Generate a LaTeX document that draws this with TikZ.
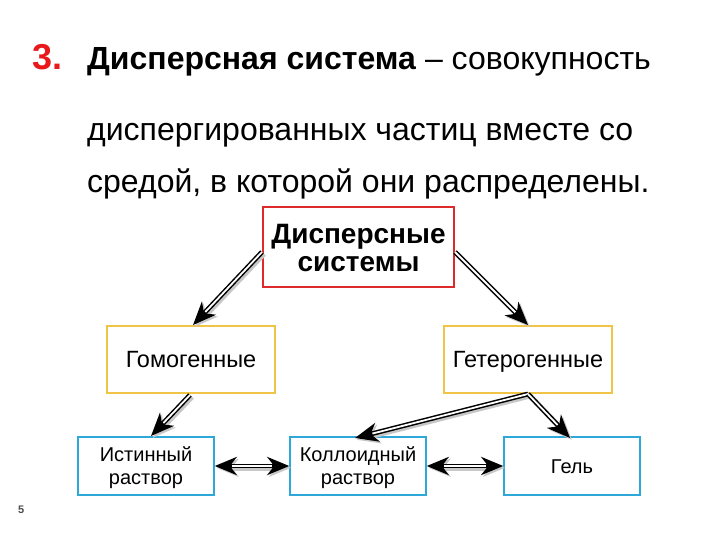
\documentclass[tikz,border=0pt]{standalone}
\usepackage{fontspec}
\setmainfont{Liberation Sans}
\usetikzlibrary{arrows.meta}
\definecolor{tred}{HTML}{E8191A}
\definecolor{bred}{HTML}{DD2A2A}
\definecolor{byel}{HTML}{F0C445}
\definecolor{bblue}{HTML}{2EA8D8}
\tikzset{
  box/.style={draw, line width=1.5pt, fill=white, align=center, inner sep=0pt},
  redbox/.style={box, draw=bred, minimum width=191pt, minimum height=80pt, font=\fontsize{28}{28}\selectfont\bfseries, text height=48pt, text depth=0pt},
  yelbox/.style={box, draw=byel, minimum width=168pt, minimum height=67pt, font=\fontsize{23.5}{27}\selectfont, text height=16.8pt, text depth=0pt},
  bluebox/.style={box, draw=bblue, minimum width=136pt, minimum height=58pt, font=\fontsize{20}{23}\selectfont, text height=37.5pt, text depth=0pt},
  bluebox1/.style={bluebox, text height=14.5pt},
  shd/.style={preaction={draw=black!22, line width=5.5pt, transform canvas={shift={(1.8pt,-1.8pt)}}}},
  darr/.style={draw=black, line width=4.8pt, -{Stealth[length=23pt,width=19pt,inset=7pt]}, shd,
    postaction={draw=white, line width=1.8pt, shorten >=18pt, -}},
  ddarr/.style={draw=black, line width=4.8pt, {Stealth[length=22pt,width=18pt,inset=7pt]}-{Stealth[length=22pt,width=18pt,inset=7pt]}, shd,
    postaction={draw=white, line width=1.8pt, shorten >=17pt, shorten <=17pt, -}},
  ttl/.style={anchor=base west, inner sep=0pt, font=\fontsize{32}{34}\selectfont}
}
\begin{document}
\begin{tikzpicture}[x=1pt,y=-1pt]
\useasboundingbox (0,0) rectangle (720,540);
\node[ttl, text=tred, font=\fontsize{36}{36}\selectfont\bfseries] (n3) at (32,70) {3.};
\node[ttl] (l1) at (87,70) {\textbf{Дисперсная система} – совокупность};
\node[ttl] (l2) at (87,141) {диспергированных частиц вместе со};
\node[ttl] (l3) at (87,193) {средой, в которой они распределены.};
\node[redbox] (ds) at (358.5,247) {Дисперсные\\системы};
\node[yelbox] (hom) at (191,359.5) {Гомогенные};
\node[yelbox] (het) at (528,359.5) {Гетерогенные};
\node[bluebox] (ist) at (146,466) {Истинный\\раствор};
\node[bluebox] (kol) at (358,466) {Коллоидный\\раствор};
\node[bluebox1] (gel) at (572,466) {Гель};
\node[anchor=base west, inner sep=0pt, text=black!70, font=\fontsize{11}{11}\selectfont\bfseries] (pg) at (18,513) {5};
\coordinate (a1) at (262,252);
\coordinate (a2) at (455,252);
\coordinate (t1) at (193,325);
\coordinate (t2) at (528,325);
\coordinate (t3) at (151,436);
\coordinate (t4) at (355,438);
\coordinate (t5) at (570,438);
\coordinate (s3) at (190,395);
\coordinate (s4) at (528,394);
\draw[darr] (a1) -- (t1);
\draw[darr] (a2) -- (t2);
\draw[darr] (s3) -- (t3);
\draw[darr] (s4) -- (t4);
\draw[darr] (s4) -- (t5);
\draw[ddarr] (ist.east) -- (kol.west);
\draw[ddarr] (kol.east) -- (gel.west);
\end{tikzpicture}
\end{document}
